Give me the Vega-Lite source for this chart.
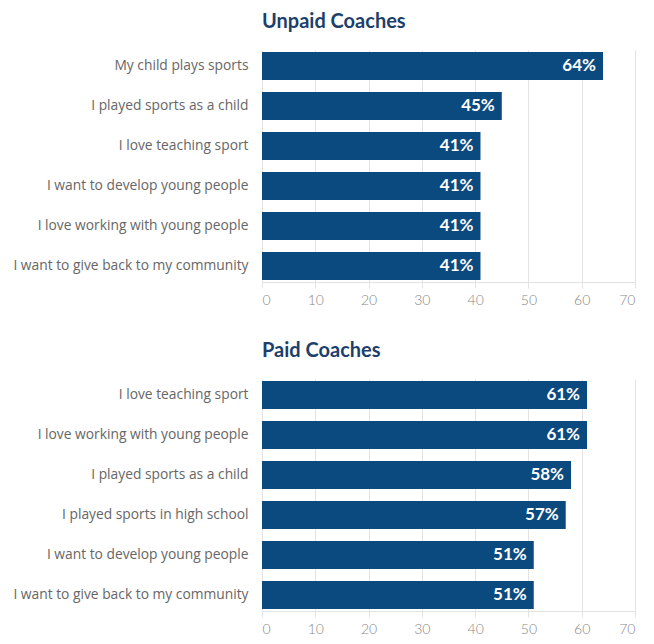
{
  "$schema": "https://vega.github.io/schema/vega-lite/v6.json",
  "padding": {"left": 0, "top": 12, "right": 5, "bottom": 0},
  "background": "white",
  "spacing": 34,
  "config": {
    "font": "Lato",
    "view": {"stroke": null},
    "title": {"anchor": "start", "frame": "group", "fontSize": 20, "fontWeight": "bold", "color": "#1d3f6c", "font": "Lato", "offset": 18},
    "axisX": {"grid": true, "gridColor": "#e3e3e3", "domainColor": "#e3e3e3", "tickColor": "#e3e3e3", "tickSize": 6, "labelFontSize": 14, "labelColor": "#888", "labelPadding": 5, "labelFontWeight": 300, "title": null},
    "axisY": {"domain": false, "ticks": false, "labelFont": "Open Sans", "labelFontSize": 13.8, "labelColor": "#666", "labelPadding": 14, "labelLimit": 300, "minExtent": 262, "maxExtent": 262, "title": null}
  },
  "datasets": {
    "unpaid": [
      {"reason": "My child plays sports", "pct": 64, "label": "64%", "order": 1},
      {"reason": "I played sports as a child", "pct": 45, "label": "45%", "order": 2},
      {"reason": "I love teaching sport", "pct": 41, "label": "41%", "order": 3},
      {"reason": "I want to develop young people", "pct": 41, "label": "41%", "order": 4},
      {"reason": "I love working with young people", "pct": 41, "label": "41%", "order": 5},
      {"reason": "I want to give back to my community", "pct": 41, "label": "41%", "order": 6}
    ],
    "paid": [
      {"reason": "I love teaching sport", "pct": 61, "label": "61%", "order": 1},
      {"reason": "I love working with young people", "pct": 61, "label": "61%", "order": 2},
      {"reason": "I played sports as a child", "pct": 58, "label": "58%", "order": 3},
      {"reason": "I played sports in high school", "pct": 57, "label": "57%", "order": 4},
      {"reason": "I want to develop young people", "pct": 51, "label": "51%", "order": 5},
      {"reason": "I want to give back to my community", "pct": 51, "label": "51%", "order": 6}
    ]
  },
  "vconcat": [
    {
      "title": "Unpaid Coaches",
      "width": 373,
      "height": 232,
      "data": {"name": "unpaid"},
      "layer": [
        {"mark": {"type": "bar", "color": "#0b4a7e"},
         "encoding": {
          "y": {"field": "reason", "type": "nominal", "sort": {"field": "order"}, "scale": {"paddingInner": 0.3, "paddingOuter": 0.05}},
          "x": {"field": "pct", "type": "quantitative", "scale": {"domain": [0, 70]}, "axis": {"values": [0,10,20,30,40,50,60,70]}}
         }},
        {"mark": {"type": "text", "align": "right", "dx": -7, "color": "white", "fontSize": 17, "fontWeight": "bold", "baseline": "middle"},
         "encoding": {
          "y": {"field": "reason", "type": "nominal", "sort": {"field": "order"}},
          "x": {"field": "pct", "type": "quantitative", "axis": {"values": [0,10,20,30,40,50,60,70]}},
          "text": {"field": "label", "type": "nominal"}}}
      ]
    },
    {
      "title": "Paid Coaches",
      "width": 373,
      "height": 232,
      "data": {"name": "paid"},
      "layer": [
        {"mark": {"type": "bar", "color": "#0b4a7e"},
         "encoding": {
          "y": {"field": "reason", "type": "nominal", "sort": {"field": "order"}, "scale": {"paddingInner": 0.3, "paddingOuter": 0.05}},
          "x": {"field": "pct", "type": "quantitative", "scale": {"domain": [0, 70]}, "axis": {"values": [0,10,20,30,40,50,60,70]}}
         }},
        {"mark": {"type": "text", "align": "right", "dx": -7, "color": "white", "fontSize": 17, "fontWeight": "bold", "baseline": "middle"},
         "encoding": {
          "y": {"field": "reason", "type": "nominal", "sort": {"field": "order"}},
          "x": {"field": "pct", "type": "quantitative", "axis": {"values": [0,10,20,30,40,50,60,70]}},
          "text": {"field": "label", "type": "nominal"}}}
      ]
    }
  ]
}
